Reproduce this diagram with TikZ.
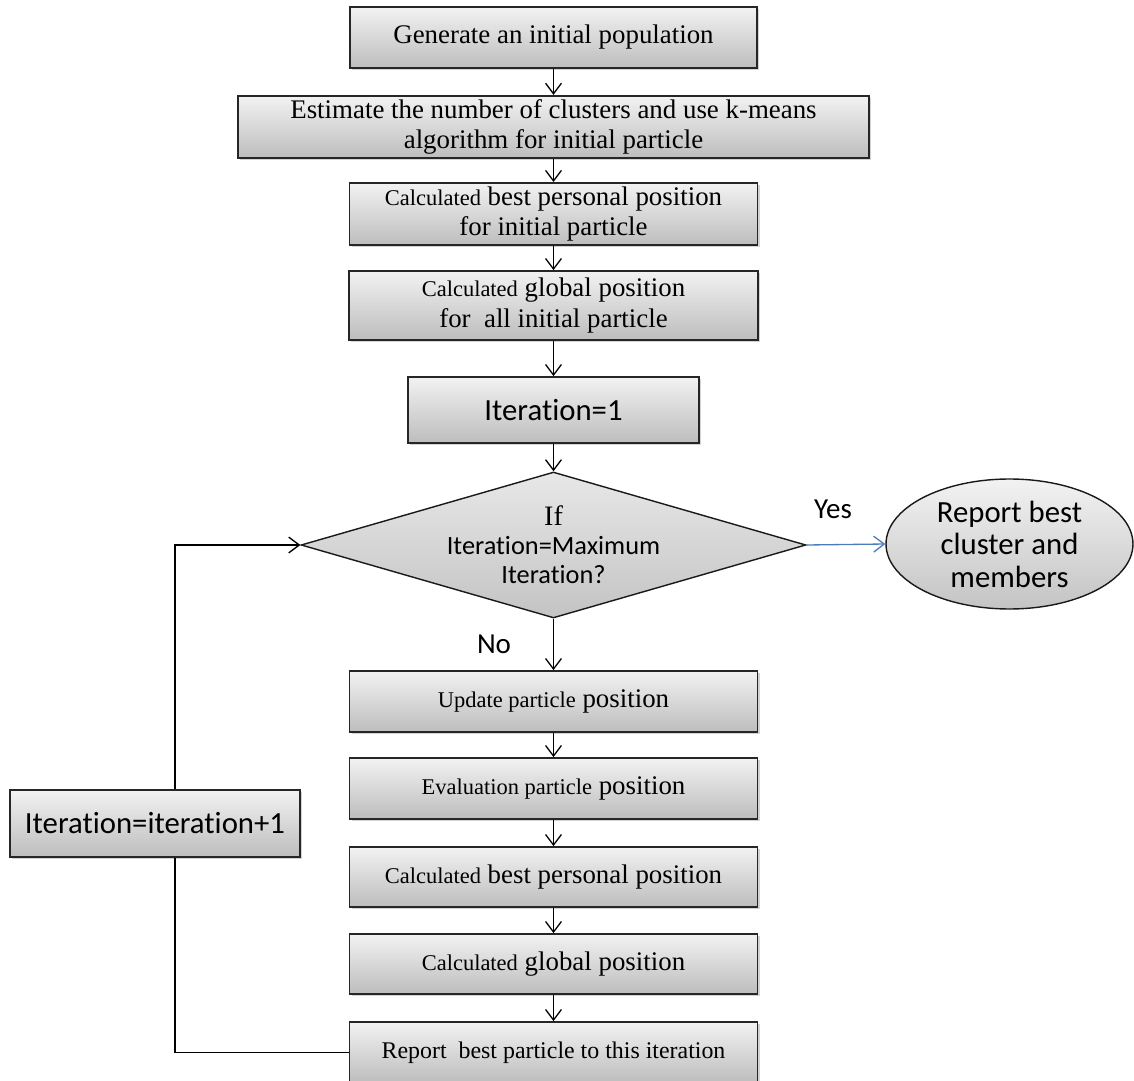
\documentclass[tikz,border=0pt]{standalone}
\usepackage{fontspec}
\setmainfont{Liberation Serif}
\newfontfamily\calibri[Ligatures=NoCommon]{Carlito}
\usetikzlibrary{shapes.geometric,shadows,arrows.meta}

\definecolor{boxtop}{HTML}{F2F2F2}
\definecolor{boxbot}{HTML}{BDBDBD}
\definecolor{yesblue}{HTML}{4A7EBB}

\newcommand{\smtxt}[1]{{\fontsize{12.8}{17}\selectfont #1}}

\begin{document}
\begin{tikzpicture}[x=0.02cm, y=-0.02cm,
  stepbox/.style={draw=black!85, line width=1pt, top color=boxtop, bottom color=boxbot,
    drop shadow={shadow xshift=1.2pt, shadow yshift=-1.2pt, opacity=0.35},
    align=center, inner sep=2pt, font=\fontsize{15.3}{17.5}\selectfont},
  sansbox/.style={font=\calibri\fontsize{17.5}{19}\selectfont},
  decide/.style={diamond, draw=black!90, line width=0.8pt, top color=boxtop!80!boxbot, bottom color=boxbot!90,
    inner sep=0pt, minimum width=10.1cm, minimum height=2.92cm},
  endbox/.style={ellipse, draw=black!90, line width=0.8pt, top color=boxtop, bottom color=boxbot!90,
    inner sep=0pt, minimum width=4.94cm, minimum height=2.6cm},
  flow/.style={line width=0.75pt, -{Straight Barb[length=6pt,width=9pt]}},
  tag/.style={font=\calibri\fontsize{16.5}{18}\selectfont}]

\clip (0,0) rectangle (1134,1081);

\node[stepbox, minimum width=8.14cm, minimum height=1.22cm] (init) at (553.5,37.5) {Generate an initial population};
\node[stepbox, minimum width=12.62cm, minimum height=1.2cm] (kmeans) at (553.5,127) {Estimate the number of clusters and use k-means\\algorithm for initial particle};
\node[stepbox, minimum width=8.16cm, minimum height=1.2cm] (pbest0) at (553.5,214) {\smtxt{Calculated} best personal position\\for initial particle};
\node[stepbox, minimum width=8.18cm, minimum height=1.38cm] (gbest0) at (553.5,305.5) {\smtxt{Calculated} global position\\for~ all initial particle};
\node[stepbox, sansbox, minimum width=5.82cm, minimum height=1.32cm] (iter1) at (553.5,410) {Iteration=1};

\node[decide, label={[align=center, font=\calibri\fontsize{15}{16.5}\selectfont]center:{\rmfamily\fontsize{16}{16.5}\selectfont If}\\Iteration=Maximum\\Iteration?}] (check) at (553.5,545) {};
\node[endbox, label={[align=center, font=\calibri\fontsize{17.5}{18.5}\selectfont]center:Report best\\cluster and\\members}] (report) at (1009.5,544) {};
\node[tag] (yes) at (833,509) {Yes};
\node[tag] (no) at (494,644) {No};

\node[stepbox, minimum width=8.16cm, minimum height=1.22cm] (update) at (553.5,701.5) {\smtxt{Update particle} position};
\node[stepbox, minimum width=8.16cm, minimum height=1.22cm] (eval) at (553.5,788.5) {\smtxt{Evaluation particle} position};
\node[stepbox, minimum width=8.16cm, minimum height=1.2cm] (pbest) at (553.5,877) {\smtxt{Calculated} best personal position};
\node[stepbox, minimum width=8.16cm, minimum height=1.2cm] (gbest) at (553.5,964) {\smtxt{Calculated} global position};
\node[stepbox, minimum width=8.16cm, minimum height=1.22cm, font=\fontsize{13.6}{16}\selectfont] (itbest) at (553.5,1052.5) {Report~ best particle to this iteration};
\node[stepbox, sansbox, minimum width=5.8cm, minimum height=1.34cm] (incr) at (155,823.5) {Iteration=iteration+1};

\draw[flow] (init) -- (kmeans);
\draw[flow] (kmeans) -- (pbest0);
\draw[flow] (pbest0) -- (gbest0);
\draw[flow] (gbest0) -- (iter1);
\draw[flow] (iter1) -- (check);
\draw[flow, color=yesblue] (check.east) -- (report.west);
\draw[flow] (check.south) -- (update.north);
\draw[flow] (update) -- (eval);
\draw[flow] (eval) -- (pbest);
\draw[flow] (pbest) -- (gbest);
\draw[flow] (gbest) -- (itbest);

\draw[line width=0.75pt] (itbest.west) -| ([xshift=0.4cm]incr.south);
\draw[flow] ([xshift=0.4cm]incr.north) |- (check.west);

\end{tikzpicture}
\end{document}
